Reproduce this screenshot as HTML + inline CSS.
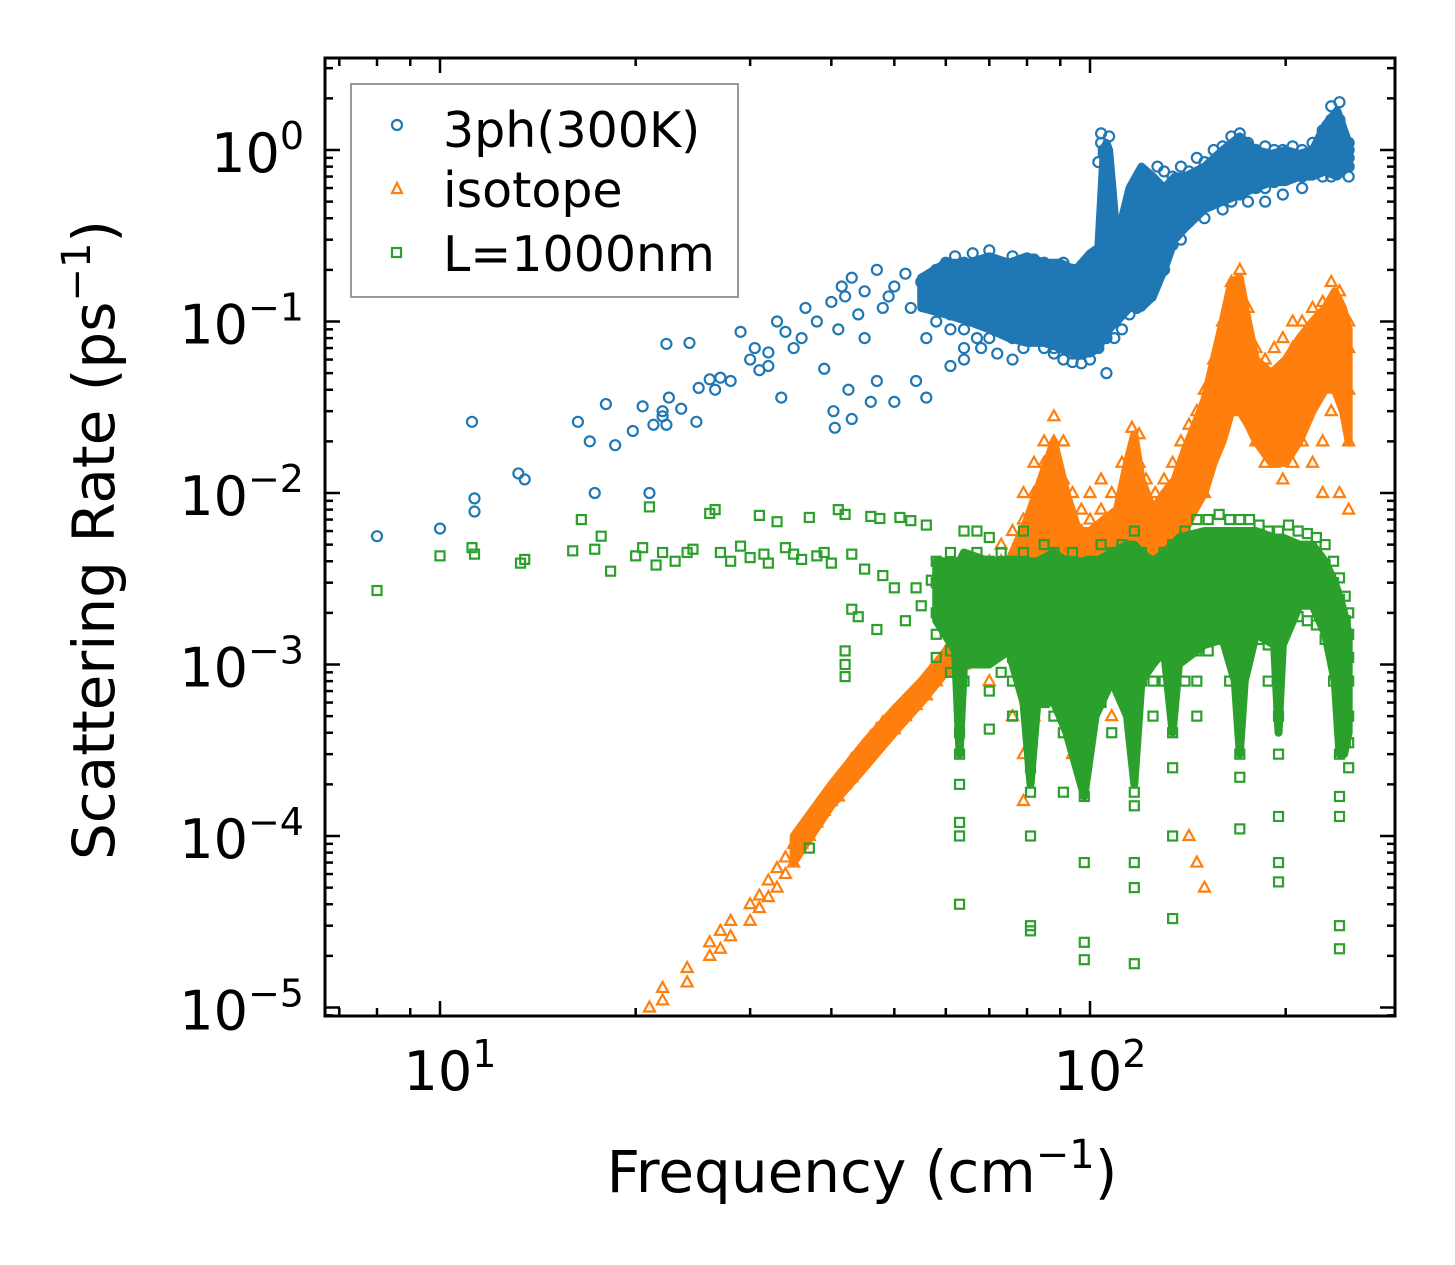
<!DOCTYPE html>
<html><head><meta charset="utf-8"><style>
html,body{margin:0;padding:0;background:#fff}
svg{display:block;font-family:"DejaVu Sans","Liberation Sans",sans-serif}
</style></head><body>
<svg id="chart" width="1455" height="1265" viewBox="0 0 1455 1265" xmlns="http://www.w3.org/2000/svg">
<defs><clipPath id="clip"><rect x="325" y="58" width="1070" height="958"/></clipPath></defs>
<rect width="1455" height="1265" fill="#fff"/>
<g id="marks" clip-path="url(#clip)"></g>
<g id="axes"></g>
<text x="862" y="1192" font-size="58" text-anchor="middle">Frequency (cm<tspan dy="-24" font-size="40">−1</tspan><tspan dy="24">)</tspan></text>
<text transform="translate(114,540) rotate(-90)" font-size="58" text-anchor="middle">Scattering Rate (ps<tspan dy="-24" font-size="40">−1</tspan><tspan dy="24">)</tspan></text>
<g>
<rect x="351" y="84" width="387" height="213" fill="#fff" stroke="#999" stroke-width="2"/>
<circle cx="397" cy="125" r="5" fill="none" stroke="#1f77b4" stroke-width="2.2"/>
<path d="M397,183 L402,193 L392,193 Z" fill="none" stroke="#ff7f0e" stroke-width="2.2"/>
<rect x="392" y="248" width="9" height="9" fill="none" stroke="#2ca02c" stroke-width="2.2"/>
<text x="443" y="147" font-size="49">3ph(300K)</text>
<text x="443" y="207" font-size="49">isotope</text>
<text x="443" y="271" font-size="49">L=1000nm</text>
</g>
</svg>
<script>
const xTickValues=[10,100];
const xTickLabels=["1","2"];
const yTickValues=[1,0.1,0.01,0.001,0.0001,0.00001];
const yTickLabels=["0","−1","−2","−3","−4","−5"];
// dense-cluster envelopes (freq, low rate, high rate)
const blueBandFreq=[55,60,65,70,75,80,85,90,95,100,103,105,106,107,110,115,120,125,130,135,140,150,160,170,180,190,200,210,220,230,240,250];
const blueBandLo=[0.12,0.11,0.1,0.09,0.08,0.075,0.075,0.07,0.065,0.065,0.07,0.08,0.08,0.09,0.1,0.12,0.12,0.14,0.2,0.3,0.35,0.45,0.5,0.55,0.6,0.65,0.65,0.7,0.7,0.75,0.7,0.8];
const blueBandHi=[0.18,0.22,0.22,0.24,0.22,0.24,0.22,0.22,0.2,0.25,0.27,1.0,1.1,1.0,0.3,0.6,0.8,0.7,0.6,0.7,0.7,0.8,1.0,1.2,1.0,0.95,1.0,0.95,1.0,1.4,1.7,1.1];
const orangeBandFreq=[35,40,45,50,55,60,65,70,75,80,84,88,92,96,100,105,110,114,117,120,125,130,135,140,145,150,155,160,165,170,175,180,190,200,210,220,230,238,245,250];
const orangeBandLo=[0.00007,0.00015,0.00025,0.0004,0.0006,0.0009,0.0012,0.0015,0.002,0.003,0.004,0.005,0.004,0.003,0.003,0.003,0.003,0.004,0.005,0.004,0.003,0.003,0.004,0.006,0.008,0.01,0.015,0.02,0.03,0.03,0.025,0.02,0.015,0.015,0.02,0.03,0.04,0.04,0.03,0.02];
const orangeBandHi=[0.0001,0.0002,0.00035,0.00055,0.0008,0.0012,0.002,0.003,0.004,0.007,0.012,0.02,0.01,0.006,0.006,0.007,0.008,0.015,0.022,0.012,0.008,0.01,0.012,0.018,0.025,0.035,0.06,0.1,0.17,0.18,0.1,0.06,0.05,0.06,0.08,0.1,0.12,0.15,0.12,0.09];
const greenBandFreq=[58,62,63,64,70,75,79,81,83,88,92,98,102,108,114,117,120,125,130,134,137,150,160,167,170,173,180,192,195,198,210,220,230,238,242,246,250];
const greenBandLo=[0.0018,0.0012,0.0003,0.001,0.001,0.0012,0.0006,0.0002,0.0006,0.0006,0.0004,0.00017,0.0005,0.0008,0.0005,0.0002,0.0008,0.001,0.0012,0.0004,0.001,0.0013,0.0014,0.0008,0.0003,0.0008,0.0015,0.0013,0.0004,0.0013,0.0022,0.0022,0.0015,0.0008,0.0003,0.0003,0.0004];
const greenBandHi=[0.004,0.004,0.004,0.0045,0.004,0.004,0.004,0.004,0.004,0.0045,0.004,0.004,0.004,0.0045,0.005,0.005,0.0045,0.004,0.0045,0.005,0.0055,0.006,0.006,0.006,0.006,0.006,0.006,0.0055,0.0055,0.0055,0.005,0.005,0.004,0.003,0.0025,0.002,0.0015];
// blue: sparse points [freq, rate]
const blueSparse=[[8,0.0056],[10,0.0062],[11.2,0.026],[11.3,0.0093],[11.3,0.0078],[13.2,0.013],[13.5,0.012],[16.3,0.026],[17,0.02],[17.3,0.01],[18,0.033],[18.6,0.019],[19.8,0.023],[20.5,0.032],[21,0.01],[21.3,0.025],[22,0.028],[22,0.03],[22.3,0.074],[22.3,0.025],[22.5,0.036],[23.5,0.031],[24.2,0.075],[24.8,0.026],[25,0.041],[26,0.046],[26.5,0.04],[27,0.047],[28,0.045],[29,0.087],[30,0.06],[30.5,0.07],[31,0.052],[32,0.066],[32,0.055],[33,0.1],[33.5,0.036],[34,0.087],[35,0.07],[36,0.08],[36.5,0.12],[38,0.1],[39,0.053],[40,0.13],[40.3,0.03],[40.5,0.024],[41,0.09],[41.5,0.16],[42,0.14],[42.5,0.04],[43,0.027],[43,0.18],[44,0.11],[45,0.15],[45,0.08],[46,0.034],[47,0.2],[47,0.045],[48,0.12],[49,0.14],[50,0.16],[50,0.034],[52,0.19],[53,0.12],[54,0.045],[55,0.17],[56,0.08],[56,0.036],[57,0.14],[58,0.2],[60,0.22],[62,0.24],[66,0.25],[70,0.26],[61,0.055],[64,0.06],[68,0.07],[72,0.065],[76,0.06],[104,1.25],[104,1.1],[105,1.0],[106,0.9],[107,1.2],[103,0.85],[105,0.95]];
// blue: columns [freq, rates]
const blueCols=[[58,[0.19,0.16,0.13,0.1]],[61,[0.2,0.16,0.13,0.11,0.09]],[64,[0.22,0.18,0.15,0.12,0.09,0.07]],[67,[0.21,0.17,0.14,0.11,0.08]],[70,[0.23,0.19,0.16,0.13,0.1,0.08]],[73,[0.22,0.18,0.15,0.12,0.09]],[76,[0.24,0.2,0.16,0.13,0.1,0.08]],[79,[0.22,0.18,0.15,0.12,0.09,0.07]],[82,[0.23,0.19,0.15,0.12,0.1,0.08]],[85,[0.22,0.18,0.14,0.11,0.09,0.07]],[88,[0.2,0.17,0.14,0.11,0.09,0.07,0.065]],[91,[0.22,0.18,0.14,0.11,0.09,0.07,0.06]],[94,[0.2,0.16,0.13,0.1,0.08,0.065,0.058]],[97,[0.21,0.17,0.13,0.1,0.08,0.065,0.057]],[100,[0.22,0.17,0.13,0.1,0.085,0.07,0.06]],[103,[0.26,0.2,0.15,0.11,0.085,0.07]],[106,[0.3,0.2,0.15,0.12,0.1,0.08,0.05]],[109,[0.2,0.16,0.13,0.1,0.08]],[112,[0.22,0.18,0.15,0.12,0.09]],[115,[0.3,0.22,0.17,0.14,0.11]],[118,[0.5,0.4,0.3,0.22,0.16,0.12]],[121,[0.7,0.55,0.4,0.3,0.2,0.15]],[124,[0.6,0.45,0.35,0.25,0.18,0.14]],[127,[0.8,0.6,0.45,0.3,0.22]],[130,[0.75,0.6,0.45,0.35,0.25,0.2]],[134,[0.7,0.55,0.45,0.35,0.28]],[138,[0.8,0.65,0.5,0.4,0.3]],[142,[0.75,0.6,0.5,0.4]],[146,[0.9,0.7,0.55,0.45]],[150,[0.85,0.7,0.6,0.5,0.4]],[155,[1.0,0.8,0.65,0.5]],[160,[1.05,0.85,0.7,0.55,0.45]],[165,[1.2,1.0,0.8,0.65,0.5]],[170,[1.25,1.0,0.85,0.7,0.55]],[175,[1.1,0.95,0.8,0.65,0.5]],[180,[1.0,0.9,0.75,0.6]],[186,[1.05,0.9,0.75,0.6,0.5]],[192,[1.0,0.9,0.8,0.65]],[198,[1.0,0.9,0.8,0.7,0.55]],[205,[1.05,0.9,0.8,0.7]],[212,[1.0,0.9,0.8,0.7,0.6]],[220,[1.1,0.95,0.85,0.75]],[228,[1.3,1.1,0.95,0.85,0.7]],[235,[1.8,1.5,1.2,1.0,0.85,0.7]],[242,[1.9,1.5,1.2,1.0,0.85]],[250,[1.1,1.0,0.9,0.8,0.7]]];
// orange: columns [freq, rates]
const orangeCols=[[21,[0.00001]],[22,[0.000013,0.000011]],[24,[0.000017,0.000014]],[26,[0.000024,0.00002]],[27,[0.000028,0.000022]],[28,[0.000032,0.000026]],[30,[0.00004,0.000032]],[31,[0.000045,0.000038]],[32,[0.000055,0.000044]],[33,[0.000065,0.00005]],[34,[0.000075,0.00006]],[35,[0.00009,0.00007]],[36,[0.00011,0.00009]],[37,[0.00012,0.0001]],[38,[0.00015,0.00012]],[39,[0.00017,0.00014]],[40,[0.00019,0.00016]],[41,[0.00021,0.00017]],[42,[0.00024,0.0002]],[43,[0.00028,0.00022]],[44,[0.0003,0.00025]],[45,[0.00034,0.00028]],[46,[0.00038,0.00031]],[47,[0.00042,0.00034]],[48,[0.00046,0.00038]],[50,[0.0005,0.00042]],[52,[0.0006,0.0005]],[54,[0.0007,0.00058]],[56,[0.0008,0.00066]],[58,[0.00095,0.0008]],[60,[0.0011,0.0009]],[62,[0.0013,0.0011,0.0009]],[64,[0.002,0.0015,0.001]],[67,[0.003,0.002,0.0012]],[70,[0.004,0.003,0.002,0.0008]],[73,[0.005,0.004,0.003,0.002]],[76,[0.006,0.004,0.003,0.002,0.0005]],[79,[0.01,0.007,0.005,0.003,0.0003,0.00016]],[82,[0.015,0.01,0.008,0.005,0.003,0.0005]],[85,[0.02,0.015,0.01,0.007,0.004]],[88,[0.028,0.02,0.014,0.009,0.005]],[91,[0.02,0.012,0.008,0.005,0.003]],[94,[0.01,0.007,0.005,0.003,0.0003]],[97,[0.008,0.006,0.004,0.003]],[100,[0.01,0.007,0.005,0.003]],[104,[0.012,0.008,0.006,0.004]],[108,[0.01,0.007,0.005,0.0005]],[112,[0.015,0.01,0.007,0.004]],[116,[0.024,0.017,0.011,0.006]],[119,[0.022,0.015,0.01,0.006]],[122,[0.012,0.008,0.006,0.004]],[126,[0.01,0.007,0.005,0.003]],[130,[0.012,0.009,0.006,0.004]],[134,[0.015,0.01,0.007,0.005]],[138,[0.02,0.015,0.01,0.007]],[142,[0.025,0.018,0.012,0.0001]],[146,[0.03,0.022,0.015,0.00007]],[150,[0.04,0.03,0.02,0.01,0.00005]],[155,[0.06,0.04,0.03,0.02]],[160,[0.1,0.07,0.05,0.03]],[165,[0.17,0.12,0.08,0.05,0.03]],[170,[0.2,0.14,0.09,0.06,0.04]],[175,[0.12,0.08,0.05,0.03]],[180,[0.07,0.05,0.03,0.02]],[186,[0.06,0.04,0.03,0.015]],[192,[0.07,0.05,0.03,0.015]],[198,[0.08,0.05,0.03,0.012]],[205,[0.1,0.07,0.04,0.015]],[212,[0.1,0.07,0.05,0.02]],[220,[0.12,0.08,0.05,0.015]],[228,[0.13,0.09,0.06,0.02,0.01]],[235,[0.17,0.12,0.08,0.03]],[242,[0.15,0.1,0.07,0.04,0.01]],[250,[0.1,0.07,0.04,0.02,0.008]]];
// green: sparse points [freq, rate]
const greenSparse=[[8,0.0027],[10,0.0043],[11.2,0.0048],[11.3,0.0044],[13.3,0.0039],[13.5,0.0041],[16,0.0046],[16.5,0.007],[17.3,0.0047],[17.7,0.0056],[18.3,0.0035],[20,0.0043],[20.5,0.0048],[21,0.0083],[21.5,0.0038],[22,0.0045],[23,0.004],[24,0.0045],[24.5,0.0047],[26,0.0076],[26.5,0.008],[27,0.0045],[28,0.004],[29,0.0049],[30,0.0042],[31,0.0074],[31.5,0.0044],[32,0.0039],[33,0.0068],[34,0.0048],[35,0.0044],[36,0.0041],[37,0.0072],[37,0.000085],[38,0.0043],[39,0.0045],[40,0.0039],[41,0.008],[42,0.0075],[42,0.0012],[42,0.001],[42,0.00085],[43,0.0044],[43,0.0021],[44,0.0019],[45,0.0036],[46,0.0073],[47,0.0016],[47.5,0.0071],[48,0.0033],[50,0.0028],[51,0.0072],[52,0.0018],[53,0.0069],[54,0.0028],[55,0.0022],[56,0.0065],[57,0.0031]];
// green: columns [freq, rates]
const greenCols=[[58,[0.004,0.003,0.002,0.0015,0.0011]],[61,[0.0045,0.0032,0.0024,0.0017,0.0012,0.0009]],[63,[0.0005,0.0004,0.0003,0.0002,0.00012,0.0001,0.00004]],[64,[0.006,0.004,0.003,0.0022,0.0016,0.0012,0.0008]],[67,[0.006,0.0045,0.0032,0.0024,0.0017,0.0012]],[70,[0.0055,0.004,0.003,0.0022,0.0016,0.0011,0.0007,0.00042]],[73,[0.0045,0.0032,0.0024,0.0018,0.0013,0.0009]],[76,[0.004,0.003,0.0022,0.0016,0.0011,0.0008,0.0005]],[79,[0.006,0.0045,0.0033,0.0024,0.0017,0.0012,0.0008]],[81,[0.0007,0.0005,0.00035,0.00025,0.00018,0.0001,0.00003,0.000028]],[85,[0.005,0.0036,0.0026,0.0019,0.0013,0.0009,0.0006]],[88,[0.0045,0.0033,0.0024,0.0017,0.0012,0.0008,0.0005]],[91,[0.004,0.003,0.0022,0.0016,0.0011,0.0007,0.0004,0.00018]],[94,[0.0045,0.0033,0.0024,0.0017,0.0012,0.0008,0.0005]],[98,[0.0035,0.0025,0.0017,0.0012,0.0008,0.0006,0.0004,0.00025,0.00017,0.00007,0.000024,0.000019]],[100,[0.004,0.003,0.0022,0.0016,0.0011,0.0008]],[104,[0.005,0.0036,0.0026,0.0019,0.0013,0.0009,0.0006]],[108,[0.0045,0.0033,0.0024,0.0017,0.0012,0.0008,0.0004]],[112,[0.005,0.0036,0.0026,0.0019,0.0013,0.0009]],[117,[0.006,0.004,0.003,0.002,0.0013,0.0008,0.0005,0.0003,0.00018,0.00015,0.00007,0.00005,0.000018]],[120,[0.0045,0.0033,0.0024,0.0017,0.0012,0.0008]],[125,[0.004,0.003,0.0022,0.0016,0.0011,0.0008,0.0005]],[130,[0.0045,0.0033,0.0024,0.0017,0.0012,0.0008]],[134,[0.005,0.0035,0.0025,0.0017,0.0011,0.0006,0.0004,0.00025,0.0001,0.000033]],[140,[0.006,0.0045,0.0033,0.0024,0.0017,0.0012,0.0008]],[146,[0.007,0.005,0.0036,0.0026,0.0018,0.0012,0.0008,0.0005]],[152,[0.007,0.005,0.0036,0.0026,0.0018,0.0012]],[158,[0.0075,0.0055,0.004,0.0028,0.002,0.0014]],[164,[0.007,0.005,0.0036,0.0026,0.0018,0.0012,0.0008]],[170,[0.007,0.005,0.0035,0.0025,0.0017,0.0011,0.0007,0.0005,0.0003,0.00022,0.00011]],[176,[0.007,0.0055,0.004,0.003,0.002,0.0014]],[182,[0.0065,0.005,0.0037,0.0027,0.002,0.0014]],[188,[0.006,0.0045,0.0034,0.0025,0.0018,0.0013,0.0008]],[195,[0.006,0.0045,0.0033,0.0024,0.0016,0.0011,0.0008,0.0005,0.0003,0.00013,0.00007,0.000054]],[202,[0.0065,0.005,0.0037,0.0027,0.0019]],[209,[0.006,0.0048,0.0036,0.0026,0.0019]],[216,[0.0058,0.0045,0.0034,0.0025,0.0018]],[223,[0.0055,0.0042,0.0032,0.0024,0.0017]],[230,[0.005,0.0038,0.0028,0.002,0.0014]],[237,[0.004,0.003,0.0022,0.0016,0.0011,0.0008]],[242,[0.0032,0.0024,0.0017,0.0012,0.0008,0.0005,0.0003,0.00017,0.00013,0.00003,0.000022]],[247,[0.0025,0.0018,0.0013,0.0009,0.0006,0.00045,0.00035]],[250,[0.002,0.0015,0.0011,0.0008,0.0005,0.00035,0.00025]]];

const NS="http://www.w3.org/2000/svg";
function xScale(f){return 440+650*Math.log10(f/10);}
function yScale(r){return 150-171.5*Math.log10(r);}
const marks=document.getElementById('marks');
const axes=document.getElementById('axes');
function pts(sparse,cols){const out=sparse.slice();cols.forEach(c=>c[1].forEach(r=>out.push([c[0],r])));return out;}
function drawBand(freqs,lo,hi,color,name){
  let d='';
  freqs.forEach((f,i)=>{d+=(i?'L':'M')+xScale(f)+','+yScale(hi[i]);});
  for(let i=freqs.length-1;i>=0;i--){d+='L'+xScale(freqs[i])+','+yScale(lo[i]);}
  d+='Z';
  const p=document.createElementNS(NS,'path');
  p.setAttribute('d',d);p.setAttribute('fill',color);p.setAttribute('stroke',color);p.setAttribute('stroke-width',8);p.setAttribute('stroke-linejoin','round');
  
  
  marks.appendChild(p);
}
function drawSeries(list,kind,color,name){
  const g=document.createElementNS(NS,'g');
  
  
  list.forEach(p=>{
    const x=xScale(p[0]),y=yScale(p[1]);let el;
    if(kind==='c'){el=document.createElementNS(NS,'circle');el.setAttribute('cx',x);el.setAttribute('cy',y);el.setAttribute('r',5);}
    else if(kind==='t'){el=document.createElementNS(NS,'path');el.setAttribute('d',`M${x},${y-6}L${x+5.5},${y+4}L${x-5.5},${y+4}Z`);}
    else{el=document.createElementNS(NS,'rect');el.setAttribute('x',x-4.5);el.setAttribute('y',y-4.5);el.setAttribute('width',9);el.setAttribute('height',9);}
    el.setAttribute('fill','none');el.setAttribute('stroke',color);el.setAttribute('stroke-width',2.2);
    
    
    g.appendChild(el);
  });
  marks.appendChild(g);
}
drawBand(blueBandFreq,blueBandLo,blueBandHi,'#1f77b4','cluster-3ph');
drawSeries(pts(blueSparse,blueCols),'c','#1f77b4','series-3ph');
drawBand(orangeBandFreq,orangeBandLo,orangeBandHi,'#ff7f0e','cluster-isotope');
drawSeries(pts([],orangeCols),'t','#ff7f0e','series-isotope');
drawBand(greenBandFreq,greenBandLo,greenBandHi,'#2ca02c','cluster-boundary');
drawSeries(pts(greenSparse,greenCols),'s','#2ca02c','series-boundary');

function line(x1,y1,x2,y2,w,name){const l=document.createElementNS(NS,'line');l.setAttribute('x1',x1);l.setAttribute('y1',y1);l.setAttribute('x2',x2);l.setAttribute('y2',y2);l.setAttribute('stroke','#000');l.setAttribute('stroke-width',w);
  
  
  axes.appendChild(l);}
const L=325,R=1395,T=58,B=1016;
for(let d=1;d<=100;d*=10){for(let m=1;m<10;m++){const v=d*m;const x=xScale(v);if(x<L||x>R)continue;const maj=(m===1);const len=maj?15:8;line(x,B,x,B-len,2.5,'x-tick');line(x,T,x,T+len,2.5,'x-tick-top');}}
for(let d=1e-6;d<=1;d*=10){for(let m=1;m<10;m++){const v=d*m;const y=yScale(v);if(y<T||y>B)continue;const maj=(m===1);const len=maj?15:8;line(L,y,L+len,y,2.5,'y-tick');line(R,y,R-len,y,2.5,'y-tick-right');}}
const fr=document.createElementNS(NS,'rect');fr.setAttribute('x',L);fr.setAttribute('y',T);fr.setAttribute('width',R-L);fr.setAttribute('height',B-T);fr.setAttribute('fill','none');fr.setAttribute('stroke','#000');fr.setAttribute('stroke-width',3);


axes.appendChild(fr);
function label(x,y,exp,anchor,name){const t=document.createElementNS(NS,'text');t.setAttribute('x',x);t.setAttribute('y',y);t.setAttribute('font-size','54');t.setAttribute('text-anchor',anchor);
  
  
  t.innerHTML=`10<tspan dy="-23" font-size="38">${exp}</tspan>`;axes.appendChild(t);}
xTickValues.forEach((v,i)=>label(xScale(v)+10,1090,xTickLabels[i],'middle','x-tick-label'));
yTickValues.forEach((v,i)=>label(304,yScale(v)+22,yTickLabels[i],'end','y-tick-label'));
</script>
</body></html>
